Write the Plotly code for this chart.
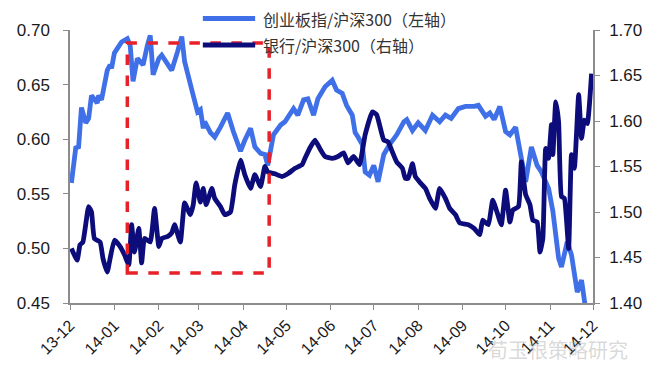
import plotly.graph_objects as go

# 创业板指/沪深300 (left axis)
cyb_dates = ["2013-12-02","2013-12-05","2013-12-07","2013-12-09","2013-12-12","2013-12-14","2013-12-16","2013-12-20",
             "2013-12-21","2013-12-23","2013-12-27","2013-12-29","2013-12-30","2014-01-01","2014-01-04","2014-01-06",
             "2014-01-10","2014-01-12","2014-01-14","2014-01-17","2014-01-19","2014-01-21","2014-01-24","2014-01-26",
             "2014-01-28","2014-02-01","2014-02-03","2014-02-06","2014-02-10","2014-02-14","2014-02-17","2014-02-19",
             "2014-02-22","2014-02-25","2014-02-28","2014-03-02","2014-03-04","2014-03-05","2014-03-09","2014-03-12",
             "2014-03-16","2014-03-21","2014-03-25","2014-03-30","2014-04-02","2014-04-06","2014-04-09","2014-04-13",
             "2014-04-16","2014-04-18","2014-04-22","2014-04-27","2014-04-30","2014-05-06","2014-05-09","2014-05-13",
             "2014-05-16","2014-05-20","2014-05-23","2014-05-28","2014-06-02","2014-06-05","2014-06-09","2014-06-12",
             "2014-06-16","2014-06-18","2014-06-20","2014-06-23","2014-06-25","2014-06-28","2014-07-01","2014-07-04",
             "2014-07-08","2014-07-12","2014-07-17","2014-07-22","2014-07-24","2014-07-28","2014-08-01","2014-08-06",
             "2014-08-11","2014-08-16","2014-08-20","2014-08-24","2014-08-29","2014-09-03","2014-09-09","2014-09-12",
             "2014-09-17","2014-09-20","2014-09-23","2014-09-27","2014-10-01","2014-10-04","2014-10-08","2014-10-11",
             "2014-10-15","2014-10-19","2014-10-23","2014-10-26","2014-10-31","2014-11-03","2014-11-07","2014-11-09",
             "2014-11-13","2014-11-16","2014-11-20","2014-11-23","2014-11-26"]
cyb_values = [0.560,0.592,0.593,0.629,0.615,0.619,0.640,0.633,
              0.640,0.636,0.663,0.668,0.665,0.679,0.685,0.689,
              0.692,0.686,0.653,0.674,0.671,0.668,0.686,0.695,
              0.659,0.674,0.677,0.671,0.663,0.680,0.694,0.671,
              0.653,0.640,0.625,0.627,0.610,0.616,0.606,0.602,
              0.611,0.624,0.607,0.589,0.599,0.610,0.593,0.587,
              0.586,0.576,0.604,0.613,0.616,0.628,0.622,0.636,
              0.637,0.622,0.637,0.648,0.654,0.645,0.642,0.631,
              0.622,0.606,0.602,0.595,0.570,0.567,0.576,0.561,
              0.586,0.595,0.604,0.616,0.618,0.608,0.615,0.608,
              0.622,0.616,0.622,0.619,0.628,0.630,0.630,0.631,
              0.621,0.624,0.618,0.630,0.607,0.604,0.611,0.589,
              0.561,0.593,0.576,0.570,0.555,0.534,0.491,0.483,
              0.506,0.494,0.460,0.471,0.443]

# 银行/沪深300 (right axis)
bank_dates = ["2013-12-02","2013-12-06","2013-12-08","2013-12-10","2013-12-14","2013-12-16","2013-12-18","2013-12-22",
              "2013-12-24","2013-12-27","2013-12-29","2014-01-01","2014-01-05","2014-01-08","2014-01-11","2014-01-13",
              "2014-01-15","2014-01-18","2014-01-20","2014-01-22","2014-01-26","2014-01-29","2014-02-01","2014-02-03",
              "2014-02-07","2014-02-10","2014-02-12","2014-02-16","2014-02-19","2014-02-23","2014-02-25","2014-02-27",
              "2014-03-02","2014-03-04","2014-03-06","2014-03-10","2014-03-12","2014-03-16","2014-03-19","2014-03-23",
              "2014-03-26","2014-03-30","2014-04-02","2014-04-06","2014-04-09","2014-04-13","2014-04-16","2014-04-18",
              "2014-04-23","2014-04-28","2014-05-02","2014-05-07","2014-05-12","2014-05-14","2014-05-18","2014-05-21",
              "2014-05-25","2014-05-28","2014-06-02","2014-06-06","2014-06-10","2014-06-13","2014-06-17","2014-06-21",
              "2014-06-25","2014-06-30","2014-07-03","2014-07-05","2014-07-08","2014-07-11","2014-07-14","2014-07-17",
              "2014-07-21","2014-07-23","2014-07-25","2014-07-28","2014-07-30","2014-08-02","2014-08-06","2014-08-09",
              "2014-08-13","2014-08-16","2014-08-20","2014-08-23","2014-08-27","2014-08-30","2014-09-05","2014-09-09",
              "2014-09-13","2014-09-15","2014-09-19","2014-09-22","2014-09-25","2014-09-28","2014-10-01","2014-10-04",
              "2014-10-06","2014-10-10","2014-10-12","2014-10-15","2014-10-18","2014-10-20","2014-10-23","2014-10-25",
              "2014-10-27","2014-10-29","2014-10-31","2014-11-02","2014-11-03","2014-11-05","2014-11-07","2014-11-09",
              "2014-11-11","2014-11-14","2014-11-16","2014-11-18","2014-11-21","2014-11-23","2014-11-25","2014-11-27",
              "2014-11-30"]
bank_values = [1.460,1.447,1.464,1.467,1.506,1.500,1.471,1.467,
               1.449,1.434,1.449,1.469,1.462,1.453,1.442,1.486,
               1.456,1.482,1.444,1.471,1.467,1.504,1.462,1.471,
               1.473,1.477,1.486,1.467,1.510,1.497,1.508,1.532,
               1.511,1.526,1.508,1.526,1.515,1.506,1.497,1.500,
               1.530,1.557,1.541,1.526,1.541,1.528,1.550,1.544,
               1.542,1.539,1.542,1.548,1.552,1.559,1.572,1.579,
               1.568,1.561,1.559,1.561,1.565,1.554,1.561,1.552,
               1.585,1.610,1.607,1.596,1.579,1.577,1.566,1.555,
               1.548,1.537,1.537,1.553,1.539,1.533,1.526,1.515,
               1.504,1.526,1.515,1.504,1.497,1.488,1.486,1.482,
               1.475,1.491,1.486,1.513,1.500,1.486,1.524,1.489,
               1.502,1.506,1.555,1.519,1.508,1.491,1.489,1.456,
               1.471,1.570,1.559,1.596,1.563,1.621,1.599,1.517,
               1.515,1.460,1.563,1.548,1.629,1.581,1.601,1.597,
               1.652]

left_ticks = [0.45, 0.50, 0.55, 0.60, 0.65, 0.70]
right_ticks = [1.40, 1.45, 1.50, 1.55, 1.60, 1.65, 1.70]
names = ["创业板指/沪深300（左轴）", "银行/沪深300（右轴）"]
watermark = "荀玉根策略研究"

BLUE = "#3f70e8"
NAVY = "#0c0c7a"
AX = "#8c8c8c"

fig = go.Figure()
fig.add_trace(go.Scatter(x=cyb_dates, y=cyb_values, mode="lines", name=names[0],
                         line=dict(color=BLUE, width=4.8), yaxis="y", showlegend=False))
fig.add_trace(go.Scatter(x=bank_dates, y=bank_values, mode="lines", name=names[1],
                         line=dict(color=NAVY, width=4.8, shape="spline", smoothing=0.4),
                         yaxis="y2", showlegend=False))

font_main = "Liberation Sans, Arial, sans-serif"
fig.update_layout(
    template="none",
    width=651, height=370,
    margin=dict(l=70, r=58, t=30, b=67, autoexpand=False),
    paper_bgcolor="white", plot_bgcolor="white",
    font=dict(family=font_main, color="#1a1a1a"),
    xaxis=dict(type="date", range=["2013-12-01", "2014-12-01"], dtick="M1", tick0="2013-12-01",
               tickformat="%y-%m", tickangle=-45, ticks="outside", ticklen=5, tickcolor=AX,
               showline=True, linecolor=AX, linewidth=1.5, showgrid=False, zeroline=False, automargin=False,
               tickfont=dict(size=16, family=font_main, color="#1a1a1a")),
    yaxis=dict(range=[0.45, 0.70], tickvals=left_ticks, ticktext=[f"{v:.2f}" for v in left_ticks],
               ticks="outside", ticklen=5, tickcolor=AX, showline=True, linecolor=AX, linewidth=1.5,
               showgrid=False, zeroline=False, automargin=False, ticklabelstandoff=10,
               tickfont=dict(size=17, family=font_main, color="#1a1a1a")),
    yaxis2=dict(range=[1.40, 1.70], tickvals=right_ticks, ticktext=[f"{v:.2f}" for v in right_ticks],
                overlaying="y", side="right", ticks="outside", ticklen=5, tickcolor=AX,
                showline=True, linecolor=AX, linewidth=1.5, showgrid=False, zeroline=False,
                automargin=False, ticklabelstandoff=6,
                tickfont=dict(size=17, family=font_main, color="#1a1a1a")),
)

# highlighted window
fig.add_shape(type="rect", xref="x", yref="y", x0="2014-01-10", x1="2014-04-19", y0=0.4775, y1=0.688,
              line=dict(color="#e8202a", width=3.5, dash="dash"), fillcolor="rgba(0,0,0,0)", layer="above")

# manual legend
legend_rows = [(1.042, BLUE, names[0]), (0.945, NAVY, names[1])]
for yy, col, txt in legend_rows:
    fig.add_shape(type="line", xref="paper", yref="paper", x0=0.254, x1=0.354, y0=yy, y1=yy,
                  line=dict(color=col, width=5), layer="above")
    fig.add_annotation(xref="paper", yref="paper", x=0.366, y=yy, text=txt, showarrow=False,
                       xanchor="left", yanchor="middle",
                       font=dict(size=16, family="Noto Sans CJK SC, sans-serif", color="#333333"))

fig.add_annotation(xref="paper", yref="paper", x=1.07, y=-0.17, text=watermark, showarrow=False,
                   xanchor="right", yanchor="middle",
                   font=dict(size=20, family="Noto Sans CJK SC, sans-serif", color="rgba(170,170,170,0.45)"))

fig.write_html("out.html", config={"displayModeBar": False},
               post_script="document.body.style.margin='0';document.body.style.padding='0';")
